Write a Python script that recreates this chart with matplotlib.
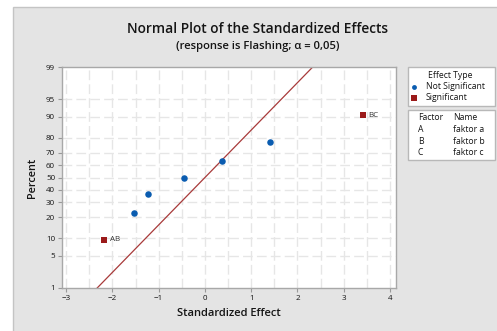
import numpy as np
import matplotlib
matplotlib.use("Agg")
from matplotlib import pyplot as plt
from matplotlib.patches import Rectangle
from matplotlib.lines import Line2D
from statistics import NormalDist

plt.rcParams['font.family'] = ['Open Sans', 'DejaVu Sans']

# effects that are not significant
ns_effect = [-1.53, -1.23, -0.45, 0.37, 1.41]
ns_pct = [23.0, 36.5, 50.0, 63.5, 77.0]
# significant effects
sig_label = ["AB", "BC"]
sig_effect = [-2.18, 3.41]
sig_pct = [9.5, 90.5]
# reference line
ref_effect = [-2.33, 2.33]
ref_pct = [1, 99]

y_ticks = [1, 5, 10, 20, 30, 40, 50, 60, 70, 80, 90, 95, 99]
x_ticks = [-3, -2, -1, 0, 1, 2, 3, 4]

factors = ["A", "B", "C"]
names = ["faktor a", "faktor b", "faktor c"]

nd = NormalDist()
_ppf = np.vectorize(lambda v: nd.inv_cdf(v / 100.0), otypes=[float])
_cdf = np.vectorize(lambda v: nd.cdf(v) * 100.0, otypes=[float])


def fwd(p):
    p = np.clip(np.asarray(p, dtype=float), 1e-6, 100 - 1e-6)
    return _ppf(p)


def inv(z):
    return _cdf(np.asarray(z, dtype=float))


blue = '#0a5cb0'
red = '#9b1a1a'
txt = '#151515'
lfs = 6.2
W, H = 497, 331

fig = plt.figure(figsize=(W / 100, H / 100), dpi=100, facecolor='white')
fig.patches.append(Rectangle((13 / W, -0.05), 1, 1.05 - 7 / H, transform=fig.transFigure,
                             facecolor='#e4e4e4', edgecolor='#c4c4c4', lw=1, zorder=-10))

ax = fig.add_axes([62 / W, 1 - 288 / H, (396 - 62) / W, (288 - 67) / H])
ax.set_yscale('function', functions=(fwd, inv))
ax.set_xlim(-3.09, 4.13)
ax.set_ylim(1, 99)

# grid like minitab
for x in np.arange(-3, 4.01, 0.5):
    ax.axvline(x, color='#e6e6e6', lw=1, dashes=(7, 3), zorder=0)
for y in y_ticks[1:-1]:
    ax.axhline(y, color='#e6e6e6', lw=1, dashes=(7, 3), zorder=0)

ax.plot(ref_effect, ref_pct, color='#a83a3a', lw=0.9, zorder=2)
ax.scatter(ns_effect, ns_pct, s=22, color=blue, marker='o', zorder=3, lw=0)
ax.scatter(sig_effect, sig_pct, s=24, color=red, marker='s', zorder=3, lw=0)
for lab, x, y in zip(sig_label, sig_effect, sig_pct):
    ax.annotate(lab, (x, y), xytext=(4, 0), textcoords='offset points',
                fontsize=5.8, va='center', color='#333333')

ax.set_yticks(y_ticks)
ax.set_yticklabels([str(v) for v in y_ticks])
ax.minorticks_off()
ax.set_xticks(x_ticks)
ax.tick_params(labelsize=5.8, length=3, color='#999999', pad=2, labelcolor=txt)
for s in ax.spines.values():
    s.set_color('#a8a8a8')
    s.set_linewidth(1)

ax.set_xlabel('Standardized Effect', fontsize=8, fontweight='semibold', labelpad=4, color=txt)
ax.set_ylabel('Percent', fontsize=7.8, fontweight='semibold', labelpad=6, color=txt)

fig.text(258 / W, 1 - 29 / H, 'Normal Plot of the Standardized Effects', ha='center',
         va='center', fontsize=9.9, fontweight='semibold', color=txt)
fig.text(258 / W, 1 - 46 / H, '(response is Flashing; α = 0,05)', ha='center',
         va='center', fontsize=8.1, fontweight='semibold', color=txt)

# legend box 1
fig.patches.append(Rectangle((408 / W, 1 - 106 / H), 87 / W, 39 / H, transform=fig.transFigure,
                             facecolor='white', edgecolor='#b8b8b8', lw=1))
fig.text(450 / W, 1 - 75 / H, 'Effect Type', ha='center', va='center', fontsize=lfs, color=txt)
fig.lines.append(Line2D([414 / W], [1 - 87 / H], marker='o', ms=3.5, color=blue, mew=0,
                        transform=fig.transFigure))
fig.lines.append(Line2D([414 / W], [1 - 98 / H], marker='s', ms=4, color=red, mew=0,
                        transform=fig.transFigure))
fig.text(426 / W, 1 - 87 / H, 'Not Significant', va='center', fontsize=lfs, color=txt)
fig.text(426 / W, 1 - 98 / H, 'Significant', va='center', fontsize=lfs, color=txt)

# legend box 2
fig.patches.append(Rectangle((408 / W, 1 - 160 / H), 87 / W, 50 / H, transform=fig.transFigure,
                             facecolor='white', edgecolor='#b8b8b8', lw=1))
fig.text(418 / W, 1 - 118 / H, 'Factor', va='center', fontsize=lfs, color=txt)
fig.text(453 / W, 1 - 118 / H, 'Name', va='center', fontsize=lfs, color=txt)
for i, (f, n) in enumerate(zip(factors, names)):
    yy = 1 - (129.5 + 11.5 * i) / H
    fig.text(418 / W, yy, f, va='center', fontsize=lfs, color=txt)
    fig.text(453 / W, yy, n, va='center', fontsize=lfs, color=txt)

plt.savefig('out.png', dpi=100)
